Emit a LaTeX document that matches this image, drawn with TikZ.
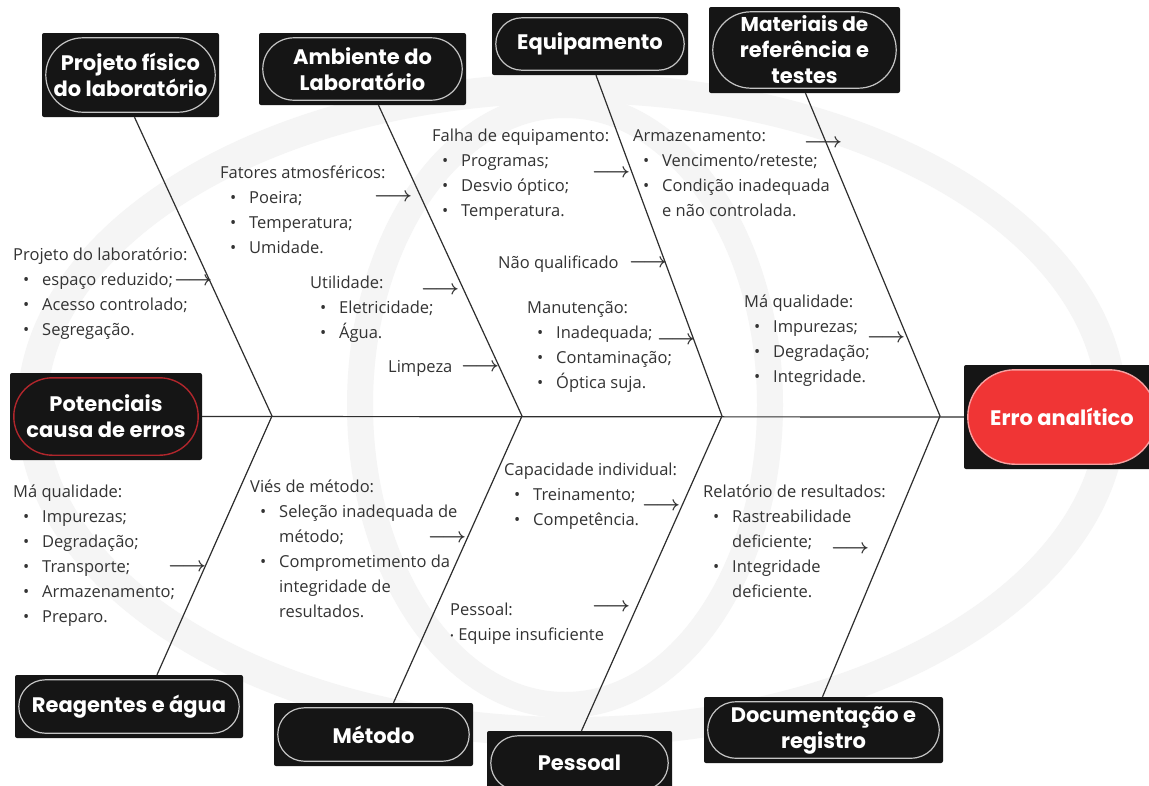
\documentclass[tikz,border=0pt]{standalone}
\usepackage{fontspec}
\setmainfont{Open Sans}
\newfontfamily\titlefont{Poppins}
\usetikzlibrary{calc}

\definecolor{boxbg}{HTML}{151515}
\definecolor{pillline}{HTML}{C4C4C4}
\definecolor{bodytxt}{HTML}{333333}
\definecolor{bonecol}{HTML}{2E2E2E}
\definecolor{errred}{HTML}{F03535}
\definecolor{errline}{HTML}{F7A0A0}
\definecolor{potred}{HTML}{B0262C}
\definecolor{wmark}{HTML}{F5F5F5}
\definecolor{arrowcol}{HTML}{333333}

\tikzset{
  catbg/.style={fill=boxbg, rounded corners=2pt, inner sep=0pt},
  cattext/.style={text=white, align=center, inner sep=0pt,
    font=\titlefont\bfseries\fontsize{21}{26}\selectfont},
  txt/.style={text=bodytxt, align=left, anchor=north west, inner sep=0pt,
    font=\fontsize{16.5}{25}\selectfont},
  tip/.style={text=arrowcol, inner sep=0pt, font=\boldmath\fontsize{22}{22}\selectfont},
  bonestyle/.style={draw=bonecol, line width=1.2pt},
}

% bullet line and continuation line inside a text block
\newcommand{\bi}[1]{\makebox[29pt][l]{\hspace{10pt}\textbullet}#1}
\newcommand{\ct}[1]{\makebox[29pt][l]{}#1}

% category box: name, x1, y1, x2, y2, pill style, text
\newcommand{\catbox}[7]{%
  \node[catbg, minimum width={#4-#2}, minimum height={#5-#3}] (#1) at ({(#2+#4)/2},{(#3+#5)/2}) {};
  \pgfmathsetmacro\pillr{(#5-#3)/2-5}%
  \draw[#6, rounded corners=\pillr pt]
    ([shift={(4pt,-5pt)}]#1.north west) rectangle ([shift={(-4pt,5pt)}]#1.south east);
  \node[cattext] (#1-t) at (#1.center) {#7};
}

\begin{document}
\begin{tikzpicture}[x=1pt, y=-1pt]
\useasboundingbox (0,0) rectangle (1149,785);
\fill[white] (0,0) rectangle (1149,785);

% faint globe watermark behind the diagram
\draw[wmark, line width=30pt] (572,410) ellipse [x radius=540pt, y radius=322pt];
\draw[wmark, line width=26pt] (565,405) ellipse [x radius=205pt, y radius=300pt];

% category boxes
\catbox{proj}{42}{33}{219}{117}{pillline, line width=1.2pt}{Projeto físico\\do laboratório}
\catbox{amb}{259}{33}{466}{105}{pillline, line width=1.2pt}{Ambiente do\\Laboratório}
\catbox{equip}{492}{13}{688}{75}{pillline, line width=1.2pt}{Equipamento}
\catbox{mat}{709}{7}{900}{93}{pillline, line width=1.2pt}{\fontsize{20}{24}\selectfont Materiais de\\referência e\\testes}
\catbox{pot}{10}{373}{202}{460}{potred, line width=1.4pt}{Potenciais\\causa de erros}
\catbox{erro}{964}{365}{1160}{469}{fill=errred, draw=errline, line width=1.4pt}{Erro analítico}
\catbox{reag}{15}{675}{243}{738}{pillline, line width=1.2pt}{Reagentes e água}
\catbox{met}{274}{703}{473}{766}{pillline, line width=1.2pt}{Método}
\catbox{pes}{487}{731}{672}{795}{pillline, line width=1.2pt}{Pessoal}
\catbox{doc}{704}{697}{943}{763}{pillline, line width=1.2pt}{Documentação e\\registro}

% spine and junctions
\coordinate (j1) at (272,416);
\coordinate (j2) at (522,416);
\coordinate (j3) at (722,416);
\coordinate (j4) at (940,416);
\draw[bonestyle] (pot.east) -- (erro.west);

% bones
\draw[bonestyle] ([xshift=4pt]proj.south) -- (j1);
\draw[bonestyle] ([xshift=16pt]amb.south) -- (j2);
\draw[bonestyle] ([xshift=6pt]equip.south) -- (j3);
\draw[bonestyle] ([xshift=1pt]mat.south) -- (j4);
\draw[bonestyle] ([xshift=28pt]reag.north) -- (j1);
\draw[bonestyle] ([xshift=20pt]met.north) -- (j2);
\draw[bonestyle] ([xshift=2pt]pes.north) -- (j3);
\draw[bonestyle] ([xshift=-1pt]doc.north) -- (j4);

% upper causes
\node[txt] (t1) at (13,248) {Projeto do laboratório:\\\bi{espaço reduzido;}\\\bi{Acesso controlado;}\\\bi{Segregação.}};
\node[txt] (t2) at (220,166) {Fatores atmosféricos:\\\bi{Poeira;}\\\bi{Temperatura;}\\\bi{Umidade.}};
\node[txt] (t3) at (310,276) {Utilidade:\\\bi{Eletricidade;}\\\bi{Água.}};
\node[txt] (t4) at (388,360) {Limpeza};
\node[txt] (t5) at (432,129) {Falha de equipamento:\\\bi{Programas;}\\\bi{Desvio óptico;}\\\bi{Temperatura.}};
\node[txt] (t6) at (498,256) {Não qualificado};
\node[txt] (t7) at (527,301) {Manutenção:\\\bi{Inadequada;}\\\bi{Contaminação;}\\\bi{Óptica suja.}};
\node[txt] (t8) at (633,129) {Armazenamento:\\\bi{Vencimento/reteste;}\\\bi{Condição inadequada}\\\ct{e não controlada.}};
\node[txt] (t9) at (744,295) {Má qualidade:\\\bi{Impurezas;}\\\bi{Degradação;}\\\bi{Integridade.}};

% lower causes
\node[txt] (b1) at (13,485) {Má qualidade:\\\bi{Impurezas;}\\\bi{Degradação;}\\\bi{Transporte;}\\\bi{Armazenamento;}\\\bi{Preparo.}};
\node[txt] (b2) at (250,480) {Viés de método:\\\bi{Seleção inadequada de}\\\ct{método;}\\\bi{Comprometimento da}\\\ct{integridade de}\\\ct{resultados.}};
\node[txt] (b3) at (504,463) {Capacidade individual:\\\bi{Treinamento;}\\\bi{Competência.}};
\node[txt] (b4) at (450,603) {Pessoal:\\\raisebox{1.5pt}{\fontsize{10}{10}\selectfont\textbullet}\ Equipe insuficiente};
\node[txt] (b5) at (703,485) {Relatório de resultados:\\\bi{Rastreabilidade}\\\ct{deficiente;}\\\bi{Integridade}\\\ct{deficiente.}};

% small arrows pointing at the bones
\node[tip] (a1) at (193,281) {$\longrightarrow$};
\node[tip] (a2) at (393,197) {$\longrightarrow$};
\node[tip] (a3) at (440,290) {$\longrightarrow$};
\node[tip] (a4) at (480,367) {$\longrightarrow$};
\node[tip] (a5) at (611,173) {$\longrightarrow$};
\node[tip] (a6) at (648,263) {$\longrightarrow$};
\node[tip] (a7) at (676,340) {$\longrightarrow$};
\node[tip] (a8) at (823,143) {$\longrightarrow$};
\node[tip] (a9) at (886,338) {$\longrightarrow$};
\node[tip] (a10) at (187,567) {$\longrightarrow$};
\node[tip] (a11) at (447,538) {$\longrightarrow$};
\node[tip] (a12) at (661,506) {$\longrightarrow$};
\node[tip] (a13) at (611,607) {$\longrightarrow$};
\node[tip] (a14) at (850,549) {$\longrightarrow$};
\end{tikzpicture}
\end{document}
